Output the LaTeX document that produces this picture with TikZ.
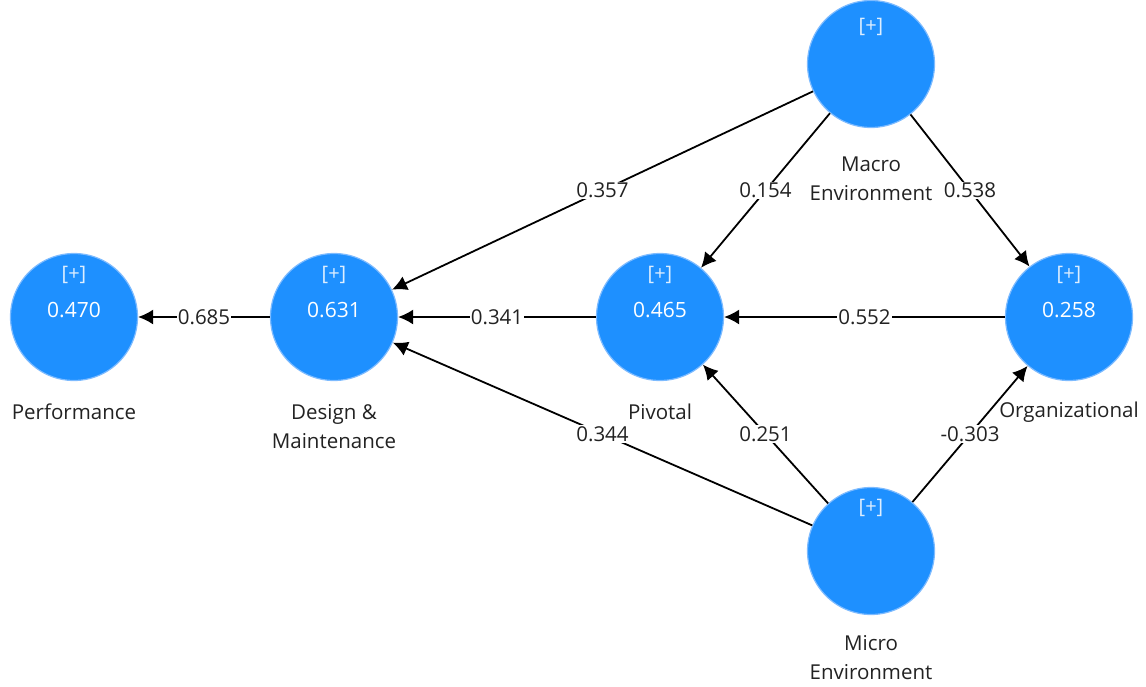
\documentclass[tikz,border=0pt]{standalone}
\usepackage{fontspec}
\setmainfont{Open Sans}
\usetikzlibrary{arrows.meta}
\definecolor{lvblue}{HTML}{1E90FF}
\definecolor{lvedge}{HTML}{7DBBFF}
\definecolor{plusc}{HTML}{DDEEFF}
\definecolor{txtc}{HTML}{222222}
\begin{document}
\begin{tikzpicture}[x=1pt,y=-1pt,
  lv/.style={circle,fill=lvblue,draw=lvedge,line width=1.2pt,minimum size=127pt,inner sep=0pt},
  conn/.style={draw=black,line width=1.8pt,-{Latex[length=15pt,width=15pt]}},
  wt/.style={fill=white,inner sep=1pt,text=txtc,font=\fontsize{20.5}{22}\selectfont},
  plustxt/.style={text=plusc,font=\fontsize{20}{22}\selectfont,inner sep=0pt},
  valtxt/.style={text=white,font=\fontsize{21}{22}\selectfont,inner sep=0pt},
  lvname/.style={text=txtc,font=\fontsize{20.5}{29}\selectfont,align=center,inner sep=0pt}
]
\useasboundingbox (0,0) rectangle (1146,686);
% latent variables
\node[lv] (perf) at (74,317) {};
\node[lv] (des) at (334,317) {};
\node[lv] (piv) at (660,317) {};
\node[lv] (org) at (1069,317) {};
\node[lv] (mac) at (871,64) {};
\node[lv] (mic) at (871,551) {};
% inner texts
\node[plustxt] (perfp) at (74,275) {[+]};
\node[valtxt] (perfv) at (74,310) {0.470};
\node[plustxt] (desp) at (334,275) {[+]};
\node[valtxt] (desv) at (334,310) {0.631};
\node[plustxt] (pivp) at (660,275) {[+]};
\node[valtxt] (pivv) at (660,310) {0.465};
\node[plustxt] (orgp) at (1069,275) {[+]};
\node[valtxt] (orgv) at (1069,310) {0.258};
\node[plustxt] (macp) at (871,27) {[+]};
\node[plustxt] (micp) at (871,508) {[+]};
% names
\node[lvname] (perfn) at (74,412) {Performance};
\node[lvname] (desn) at (334,427) {Design \&\\Maintenance};
\node[lvname] (pivn) at (660,412) {Pivotal};
\node[lvname] (orgn) at (1069,412) {Organizational};
\node[lvname] (macn) at (871,179) {Macro\\Environment};
\node[lvname] (micn) at (871,658) {Micro\\Environment};
% paths
\draw[conn] (des) -- node[wt] {0.685} (perf);
\draw[conn] (piv) -- node[wt] {0.341} (des);
\draw[conn] (org) -- node[wt] {0.552} (piv);
\draw[conn] (mac) -- node[wt] {0.357} (des);
\draw[conn] (mac) -- node[wt] {0.154} (piv);
\draw[conn] (mac) -- node[wt] {0.538} (org);
\draw[conn] (mic) -- node[wt] {0.344} (des);
\draw[conn] (mic) -- node[wt] {0.251} (piv);
\draw[conn] (mic) -- node[wt] {-0.303} (org);
\end{tikzpicture}
\end{document}
